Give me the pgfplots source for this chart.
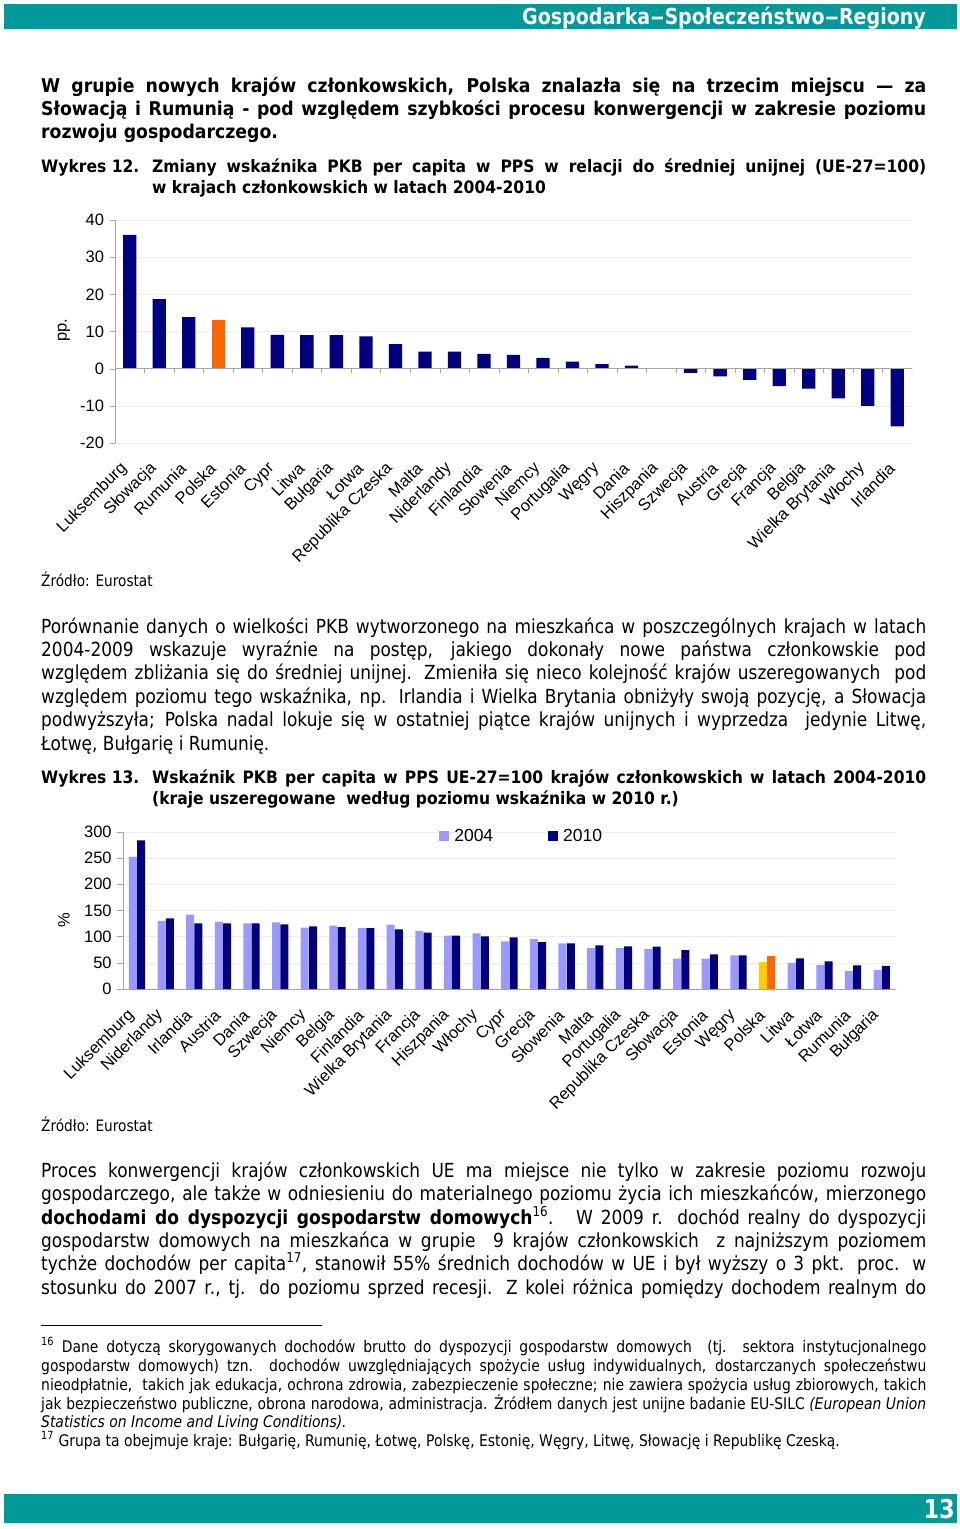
\documentclass[border=0pt]{standalone}
\usepackage{fontspec}
\usepackage{graphicx}
\usepackage{pgfplots}
\pgfplotsset{compat=1.18}
\setmainfont{DejaVu Sans}[FakeStretch=0.875]
\newfontfamily\verd{DejaVu Sans}[FakeStretch=0.91]
\newfontfamily\tahb{DejaVu Sans}[FakeStretch=0.88]
\newfontfamily\footf{DejaVu Sans}[FakeStretch=0.87]
\newfontfamily\hdrf{DejaVu Sans}[FakeStretch=0.865]
\newfontfamily\arialf{Liberation Sans}

\definecolor{navy}{RGB}{0,0,128}
\definecolor{peri}{RGB}{153,153,255}
\definecolor{orng}{RGB}{255,102,0}
\definecolor{yel}{RGB}{255,204,0}
\definecolor{tealh}{RGB}{0,153,153}
\definecolor{axgray}{RGB}{165,165,165}
\definecolor{gridc}{RGB}{236,236,236}

\newcommand\body{\fontsize{19.4}{23}\selectfont}
\newcommand\foot{\footf\fontsize{16}{19}\selectfont}
\newcommand\lead{\verd\bfseries\fontsize{19}{23}\selectfont}
\newcommand\capt{\verd\bfseries\fontsize{17.1}{21}\selectfont}
\newcommand\srcf{\footf\fontsize{15.7}{16}\selectfont}
\newcommand\chartf{\arialf\fontsize{16.5}{16.5}\selectfont}
\newcommand\hdash{\scalebox{1.5}[1]{–}}
% one line of text, left aligned at x, baseline at y (pixels from top)
\newcommand\TL[3]{\node[anchor=base west,inner sep=0pt] at (#1,-#2) {#3};}
% one justified line from x to the right margin at 926
\newcommand\JL[3]{\node[anchor=base west,inner sep=0pt] at (#1,-#2) {\makebox[\dimexpr 926pt-#1pt\relax][s]{#3}};}

\begin{document}
\begin{tikzpicture}[x=1pt,y=1pt]
\path[use as bounding box,fill=white] (0,0) rectangle (960,-1529);

% header and footer bands
\fill[tealh] (4,-4) rectangle (957,-29);
\node[anchor=base east,inner sep=0pt,text=white] at (926,-24) {\hdrf\bfseries\fontsize{22}{22}\selectfont Gospodarka\hdash Społeczeństwo\hdash Regiony};
\fill[tealh] (4,-1494) rectangle (957,-1523);
\node[anchor=base east,inner sep=0pt,text=white] at (955,-1518) {\hdrf\bfseries\fontsize{26}{26}\selectfont 13};

% lead paragraph
\JL{41}{92}{\lead W grupie nowych krajów członkowskich, Polska znalazła się na trzecim miejscu — za}
\JL{41}{115}{\lead Słowacją i Rumunią - pod względem szybkości procesu konwergencji w zakresie poziomu}
\TL{41}{138}{\lead rozwoju gospodarczego.}

% caption of chart 12
\TL{41}{172}{\capt Wykres 12.}
\JL{152}{172}{\capt Zmiany wskaźnika PKB per capita w PPS w relacji do średniej unijnej (UE-27=100)}
\TL{152}{193}{\capt w krajach członkowskich w latach 2004-2010}

\node[rotate=90,inner sep=0pt] at (64,-330) {\chartf pp.};

\begin{axis}[
  at={(115pt,-443pt)}, anchor=south west,
  scale only axis, width=797pt, height=223pt,
  xmin=0.5, xmax=27.5, ymin=-20, ymax=40,
  axis x line*=bottom, axis y line*=left,
  x axis line style={draw=none},
  y axis line style={axgray},
  ytick={-20,-10,...,40},
  xtick={1,...,27},
  xticklabels={Luksemburg,Słowacja,Rumunia,Polska,Estonia,Cypr,Litwa,Bułgaria,Łotwa,Republika Czeska,Malta,Niderlandy,Finlandia,Słowenia,Niemcy,Portugalia,Węgry,Dania,Hiszpania,Szwecja,Austria,Grecja,Francja,Belgia,Wielka Brytania,Włochy,Irlandia},
  x tick style={draw=none},
  y tick style={axgray},
  tick align=outside, major tick length=5.5pt,
  ymajorgrids, grid style={gridc},
  tick label style={font=\chartf},
  /pgf/number format/assume math mode=true,
  xticklabel style={anchor=east, xshift=-3pt, yshift=-15pt, rotate=45},
  yticklabel style={xshift=-2pt},
  ybar, bar width=13.3pt,
]
\addplot[fill=navy, draw=none, bar shift=0pt] coordinates {
 (1,36.0) (2,18.7) (3,13.9) (5,11.1) (6,9.1) (7,9.0) (8,9.0) (9,8.7)
 (10,6.6) (11,4.6) (12,4.6) (13,4.0) (14,3.7) (15,2.9) (16,1.9) (17,1.2)
 (18,0.8) (19,0.0) (20,-1.1) (21,-2.1) (22,-3.0) (23,-4.7) (24,-5.4)
 (25,-8.0) (26,-10.0) (27,-15.5)};
\addplot[fill=orng, draw=none, bar shift=0pt] coordinates {(4,13.1)};
\draw[axgray] (axis cs:0.5,0) -- (axis cs:27.5,0);
\pgfplotsinvokeforeach{0.5,1.5,...,27.5}{\draw[axgray] (axis cs:#1,0) -- ++(0pt,-4.7pt);}
\end{axis}

\TL{41}{586}{\srcf Źródło: Eurostat}

% second paragraph
\JL{41}{633}{\body Porównanie danych o wielkości PKB wytworzonego na mieszkańca w poszczególnych krajach w latach}
\JL{41}{656}{\body 2004-2009 wskazuje wyraźnie na postęp, jakiego dokonały nowe państwa członkowskie pod}
\JL{41}{679}{\body względem zbliżania się do średniej unijnej. Zmieniła się nieco kolejność krajów uszeregowanych \ pod}
\JL{41}{703}{\body względem poziomu tego wskaźnika, np. Irlandia i Wielka Brytania obniżyły swoją pozycję, a Słowacja}
\JL{41}{726}{\body podwyższyła; Polska nadal lokuje się w ostatniej piątce krajów unijnych i wyprzedza \ jedynie Litwę,}
\TL{41}{750}{\body Łotwę, Bułgarię i Rumunię.}

% caption of chart 13
\TL{41}{783}{\capt Wykres 13.}
\JL{152}{783}{\capt Wskaźnik PKB per capita w PPS UE-27=100 krajów członkowskich w latach 2004-2010}
\TL{152}{804}{\capt (kraje uszeregowane \ według poziomu wskaźnika w 2010 r.)}

\node[rotate=90,inner sep=0pt] at (64,-920) {\chartf \%};

\begin{axis}[
  at={(122.7pt,-989pt)}, anchor=south west,
  scale only axis, width=773.3pt, height=157.3pt,
  xmin=0.5, xmax=27.5, ymin=0, ymax=300,
  axis x line*=bottom, axis y line*=left,
  x axis line style={axgray},
  y axis line style={axgray},
  ytick={0,50,...,300},
  xtick={1,...,27},
  xticklabels={Luksemburg,Niderlandy,Irlandia,Austria,Dania,Szwecja,Niemcy,Belgia,Finlandia,Wielka Brytania,Francja,Hiszpania,Włochy,Cypr,Grecja,Słowenia,Malta,Portugalia,Republika Czeska,Słowacja,Estonia,Węgry,Polska,Litwa,Łotwa,Rumunia,Bułgaria},
  x tick style={draw=none},
  y tick style={axgray},
  tick align=outside, major tick length=5.5pt,
  ymajorgrids, grid style={gridc},
  tick label style={font=\chartf},
  /pgf/number format/assume math mode=true,
  xticklabel style={anchor=east, xshift=-3pt, yshift=-16pt, rotate=45},
  yticklabel style={xshift=-2pt},
  ybar, bar width=8pt,
  legend columns=2,
  legend style={at={(axis description cs:0.516,0.975)}, anchor=center, draw=none, fill=none,
    font=\arialf\fontsize{17.5}{17.5}\selectfont,
    /tikz/every even column/.append style={column sep=53pt}},
  legend image code/.code={\fill[#1] (0pt,-5pt) rectangle (10pt,5pt);},
  legend cell align=left,
]
\addplot[fill=peri, draw=none, bar shift=-4.15pt] coordinates {
 (1,252) (2,130) (3,142) (4,128) (5,125) (6,127) (7,117) (8,121) (9,116)
 (10,123) (11,111) (12,102) (13,106) (14,91) (15,95) (16,87) (17,78)
 (18,78) (19,76) (20,58) (21,58) (22,64) (24,50) (25,46) (26,34) (27,36)};
\addlegendentry{\hspace{3pt}2004}
\addplot[fill=navy, draw=none, bar shift=4.15pt] coordinates {
 (1,283.5) (2,134.7) (3,125.2) (4,125.2) (5,125.2) (6,123.3) (7,119.5)
 (8,118.2) (9,116.3) (10,113.8) (11,107.4) (12,101.7) (13,100.4) (14,98.5)
 (15,89.6) (16,87.1) (17,83.3) (18,81.4) (19,80.7) (20,74.4) (21,66.1)
 (22,64.2) (24,58.5) (25,52.8) (26,45.1) (27,43.9)};
\addlegendentry{\hspace{3pt}2010}
\addplot[fill=yel, draw=none, bar shift=-4.15pt, forget plot] coordinates {(23,50.8)};
\addplot[fill=orng, draw=none, bar shift=4.15pt, forget plot] coordinates {(23,62.3)};
\pgfplotsinvokeforeach{0.5,1.5,...,27.5}{\draw[axgray] (axis cs:#1,0) -- ++(0pt,-4.7pt);}
\end{axis}

\TL{41}{1131}{\srcf Źródło: Eurostat}

% third paragraph
\JL{41}{1177}{\body Proces konwergencji krajów członkowskich UE ma miejsce nie tylko w zakresie poziomu rozwoju}
\JL{41}{1200}{\body gospodarczego, ale także w odniesieniu do materialnego poziomu życia ich mieszkańców, mierzonego}
\JL{41}{1224}{\body {\tahb\bfseries dochodami do dyspozycji gospodarstw domowych}\textsuperscript{16}. \ W 2009 r. dochód realny do dyspozycji}
\JL{41}{1247}{\body gospodarstw domowych na mieszkańca w grupie \ 9 krajów członkowskich \ z najniższym poziomem}
\JL{41}{1270}{\body tychże dochodów per capita\textsuperscript{17}, stanowił 55\% średnich dochodów w UE i był wyższy o 3 pkt. proc. w}
\JL{41}{1294}{\body stosunku do 2007 r., tj. do poziomu sprzed recesji. Z kolei różnica pomiędzy dochodem realnym do}

% footnotes
\draw[line width=0.8pt] (41,-1325) -- (322,-1325);
\JL{41}{1352}{\foot \textsuperscript{16} Dane dotyczą skorygowanych dochodów brutto do dyspozycji gospodarstw domowych \ (tj. sektora instytucjonalnego}
\JL{41}{1371}{\foot gospodarstw domowych) tzn. dochodów uwzględniających spożycie usług indywidualnych, dostarczanych społeczeństwu}
\JL{41}{1390}{\foot nieodpłatnie, \ takich jak edukacja, ochrona zdrowia, zabezpieczenie społeczne; nie zawiera spożycia usług zbiorowych, takich}
\JL{41}{1409}{\foot jak bezpieczeństwo publiczne, obrona narodowa, administracja. Źródłem danych jest unijne badanie EU-SILC \textit{(European Union}}
\TL{41}{1427}{\foot \textit{Statistics on Income and Living Conditions).}}
\TL{41}{1446}{\foot \textsuperscript{17} Grupa ta obejmuje kraje: Bułgarię, Rumunię, Łotwę, Polskę, Estonię, Węgry, Litwę, Słowację i Republikę Czeską.}
\end{tikzpicture}
\end{document}
